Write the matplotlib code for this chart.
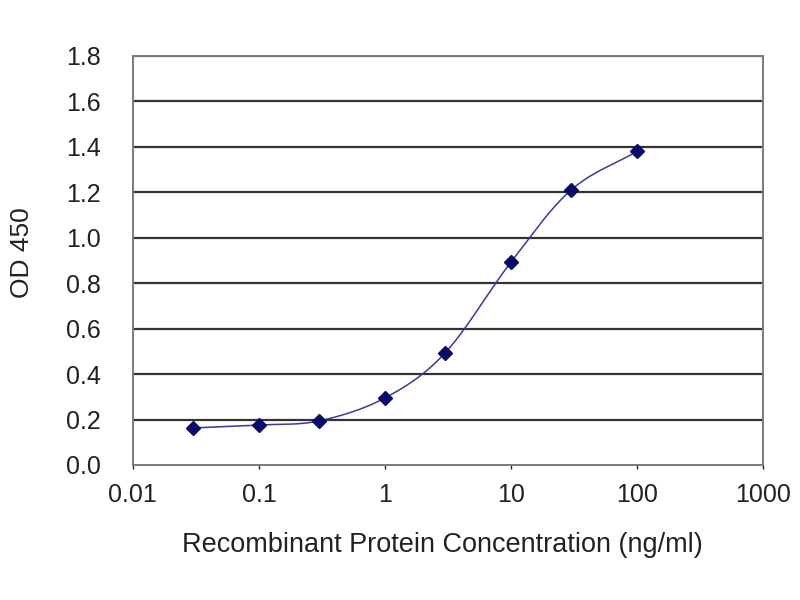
import numpy as np
import matplotlib
matplotlib.use("Agg")
import matplotlib.pyplot as plt
from matplotlib.ticker import FixedLocator, FixedFormatter, NullLocator

plt.rcParams['font.family'] = ['Liberation Sans', 'DejaVu Sans']

conc = [0.03, 0.1, 0.3, 1, 3, 10, 30, 100]
od = [0.163, 0.176, 0.194, 0.295, 0.493, 0.893, 1.21, 1.38]
xticks = [0.01, 0.1, 1, 10, 100, 1000]
xtick_labels = ["0.01", "0.1", "1", "10", "100", "1000"]
yticks = [0.0, 0.2, 0.4, 0.6, 0.8, 1.0, 1.2, 1.4, 1.6, 1.8]
ytick_labels = ["0.0", "0.2", "0.4", "0.6", "0.8", "1.0", "1.2", "1.4", "1.6", "1.8"]


def catmull_rom(px, py, n=30):
    px = np.asarray(px, float)
    py = np.asarray(py, float)
    P = np.column_stack([px, py])
    P = np.vstack([2 * P[0] - P[1], P, 2 * P[-1] - P[-2]])
    out = []
    for i in range(1, len(P) - 2):
        p0, p1, p2, p3 = P[i - 1], P[i], P[i + 1], P[i + 2]
        t = np.linspace(0, 1, n, endpoint=False)[:, None]
        seg = 0.5 * ((2 * p1) + (-p0 + p2) * t + (2 * p0 - 5 * p1 + 4 * p2 - p3) * t ** 2
                     + (-p0 + 3 * p1 - 3 * p2 + p3) * t ** 3)
        out.append(seg)
    out.append(P[-2][None, :])
    out = np.vstack(out)
    return out[:, 0], out[:, 1]


fig = plt.figure(figsize=(8, 6), dpi=100)
ax = fig.add_axes([0.166, 0.225, 0.788, 0.682])

lx, ly = catmull_rom(np.log10(conc), np.array(od) / 1.8 * 6.3)
ax.plot(10 ** lx, ly * 1.8 / 6.3, color='#3a3a9a', lw=1.1, zorder=3)
ax.plot(conc, od, linestyle='none', marker='D', markersize=7.5, color='#0a0a6a', zorder=4)

ax.set_xscale('log')
ax.set_xlim(0.01, 1000)
ax.set_ylim(0, 1.8)
ax.xaxis.set_major_locator(FixedLocator(xticks))
ax.xaxis.set_major_formatter(FixedFormatter(xtick_labels))
ax.xaxis.set_minor_locator(NullLocator())
ax.yaxis.set_major_locator(FixedLocator(yticks))
ax.yaxis.set_major_formatter(FixedFormatter(ytick_labels))

for y in yticks[1:]:
    ax.axhline(y, color='#333333', lw=1.6, zorder=1)

for s in ax.spines.values():
    s.set_color('#7a7a7a')
    s.set_linewidth(1.4)

ax.tick_params(axis='both', labelsize=18, colors='#222222', length=3, width=1, direction='out')
ax.tick_params(axis='y', length=0, pad=23)
ax.tick_params(axis='x', pad=10)

fig.text(442 / 800, 1 - 545 / 600, "Recombinant Protein Concentration (ng/ml)",
         fontsize=19.5, color='#222222', ha='center', va='center')
fig.text(22 / 800, 1 - 253 / 600, "OD 450", fontsize=19, color='#222222',
         ha='center', va='center', rotation=90)

fig.savefig("out.png", dpi=100, facecolor='white')
